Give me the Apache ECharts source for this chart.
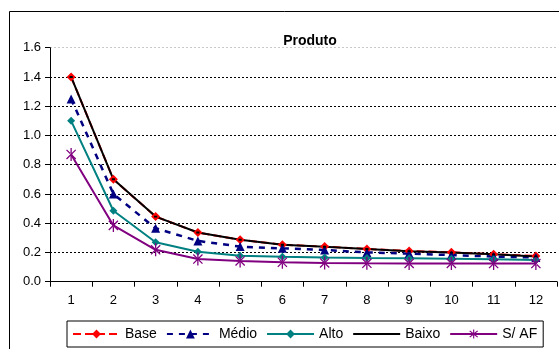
<!DOCTYPE html>
<html>
<head>
<meta charset="utf-8">
<script src="https://cdn.jsdelivr.net/npm/echarts@6/dist/echarts.min.js"></script>
<style>
html,body{margin:0;padding:0;background:#fff;}
#c{width:559px;height:349px;}
</style>
</head>
<body>
<div id="c"></div>
<script>
var categories = ['1','2','3','4','5','6','7','8','9','10','11','12'];
var base  = [1.40, 0.70, 0.445, 0.336, 0.287, 0.253, 0.240, 0.224, 0.210, 0.201, 0.188, 0.176];
var medio = [1.25, 0.60, 0.365, 0.279, 0.240, 0.228, 0.217, 0.200, 0.192, 0.182, 0.172, 0.166];
var alto  = [1.10, 0.485, 0.270, 0.205, 0.178, 0.170, 0.165, 0.162, 0.160, 0.157, 0.154, 0.149];
var baixo = [1.40, 0.70, 0.445, 0.336, 0.287, 0.253, 0.239, 0.224, 0.209, 0.199, 0.187, 0.172];
var semAF = [0.87, 0.385, 0.218, 0.155, 0.142, 0.133, 0.128, 0.126, 0.125, 0.125, 0.124, 0.124];
var seriesNames = ['Base', 'Médio', 'Alto', 'Baixo', 'S/ AF'];
var titleText = 'Produto';

var asterisk = 'path://M-1 -10 L1 -10 L1 10 L-1 10 Z M6.36 7.78 L7.78 6.36 L-6.36 -7.78 L-7.78 -6.36 Z M-6.36 7.78 L-7.78 6.36 L6.36 -7.78 L7.78 -6.36 Z';
// tiny dash inside an invisible larger box, so the legend shows only a small dot
var smallDash = 'path://M-10 -10 L-9.99 -10 L-10 -9.99 Z M-2 -1.2 L2 -1.2 L2 1.2 L-2 1.2 Z M10 10 L9.99 10 L10 9.99 Z';
var font = 'Arial, "Liberation Sans", sans-serif';

var chart = echarts.init(document.getElementById('c'), null, {renderer: 'canvas'});
chart.setOption({
  animation: false,
  backgroundColor: '#fff',
  graphic: [{
    type: 'rect', z: -10,
    shape: {x: 9.5, y: 11.5, width: 600, height: 400},
    style: {fill: 'none', stroke: '#000', lineWidth: 1}
  }],
  title: {
    text: titleText, left: 305, top: 29, textAlign: 'center',
    textStyle: {fontFamily: font, fontSize: 14, fontWeight: 'bold', color: '#000'}
  },
  grid: {left: 50, right: 2, top: 47.7, bottom: 67.3, containLabel: false},
  legend: {
    left: 67, top: 321,
    padding: [6, 6, 6, 5],
    itemWidth: 47, itemHeight: 11, itemGap: 9,
    borderColor: '#000', borderWidth: 1,
    textStyle: {fontFamily: font, fontSize: 14, color: '#000'},
    data: seriesNames
  },
  xAxis: {
    type: 'category', data: categories, boundaryGap: true,
    axisLine: {lineStyle: {color: '#000', width: 1}},
    axisTick: {show: true, inside: false, length: 5, alignWithLabel: false, lineStyle: {color: '#000'}},
    axisLabel: {fontFamily: font, fontSize: 13, color: '#000', margin: 12, interval: 0},
    splitLine: {show: false}
  },
  yAxis: {
    type: 'value', min: 0, max: 1.6, interval: 0.2,
    axisLine: {show: true, lineStyle: {color: '#000', width: 1}},
    axisTick: {show: true, inside: false, length: 5, lineStyle: {color: '#000'}},
    axisLabel: {fontFamily: font, fontSize: 13, color: '#000', margin: 9,
      formatter: function (v) { return v.toFixed(1); }},
    splitLine: {show: true, lineStyle: {type: [2, 2], width: 1,
      color: ['#000', '#000', '#000', '#000', '#000', '#000', '#000', '#000', '#c8c8c8']}}
  },
  series: [
    {
      name: seriesNames[0], type: 'line', data: base,
      symbol: 'diamond', symbolSize: 9,
      itemStyle: {color: '#ff0000'},
      lineStyle: {color: '#ff0000', width: 2, type: [8, 4]}
    },
    {
      name: seriesNames[1], type: 'line', data: medio,
      symbol: 'triangle', symbolSize: 9,
      itemStyle: {color: '#000080'},
      lineStyle: {color: '#000080', width: 2.5, type: [6, 6]}
    },
    {
      name: seriesNames[2], type: 'line', data: alto,
      symbol: 'diamond', symbolSize: 8,
      itemStyle: {color: '#008080'},
      lineStyle: {color: '#008080', width: 2, type: 'solid'}
    },
    {
      name: seriesNames[3], type: 'line', data: baixo,
      symbol: smallDash, symbolSize: 16,
      itemStyle: {color: '#000'},
      lineStyle: {color: '#000', width: 2, type: 'solid'}
    },
    {
      name: seriesNames[4], type: 'line', data: semAF,
      symbol: asterisk, symbolSize: 13, symbolKeepAspect: true,
      itemStyle: {color: '#800080'},
      lineStyle: {color: '#800080', width: 2, type: 'solid'}
    }
  ]
});
</script>
</body>
</html>
